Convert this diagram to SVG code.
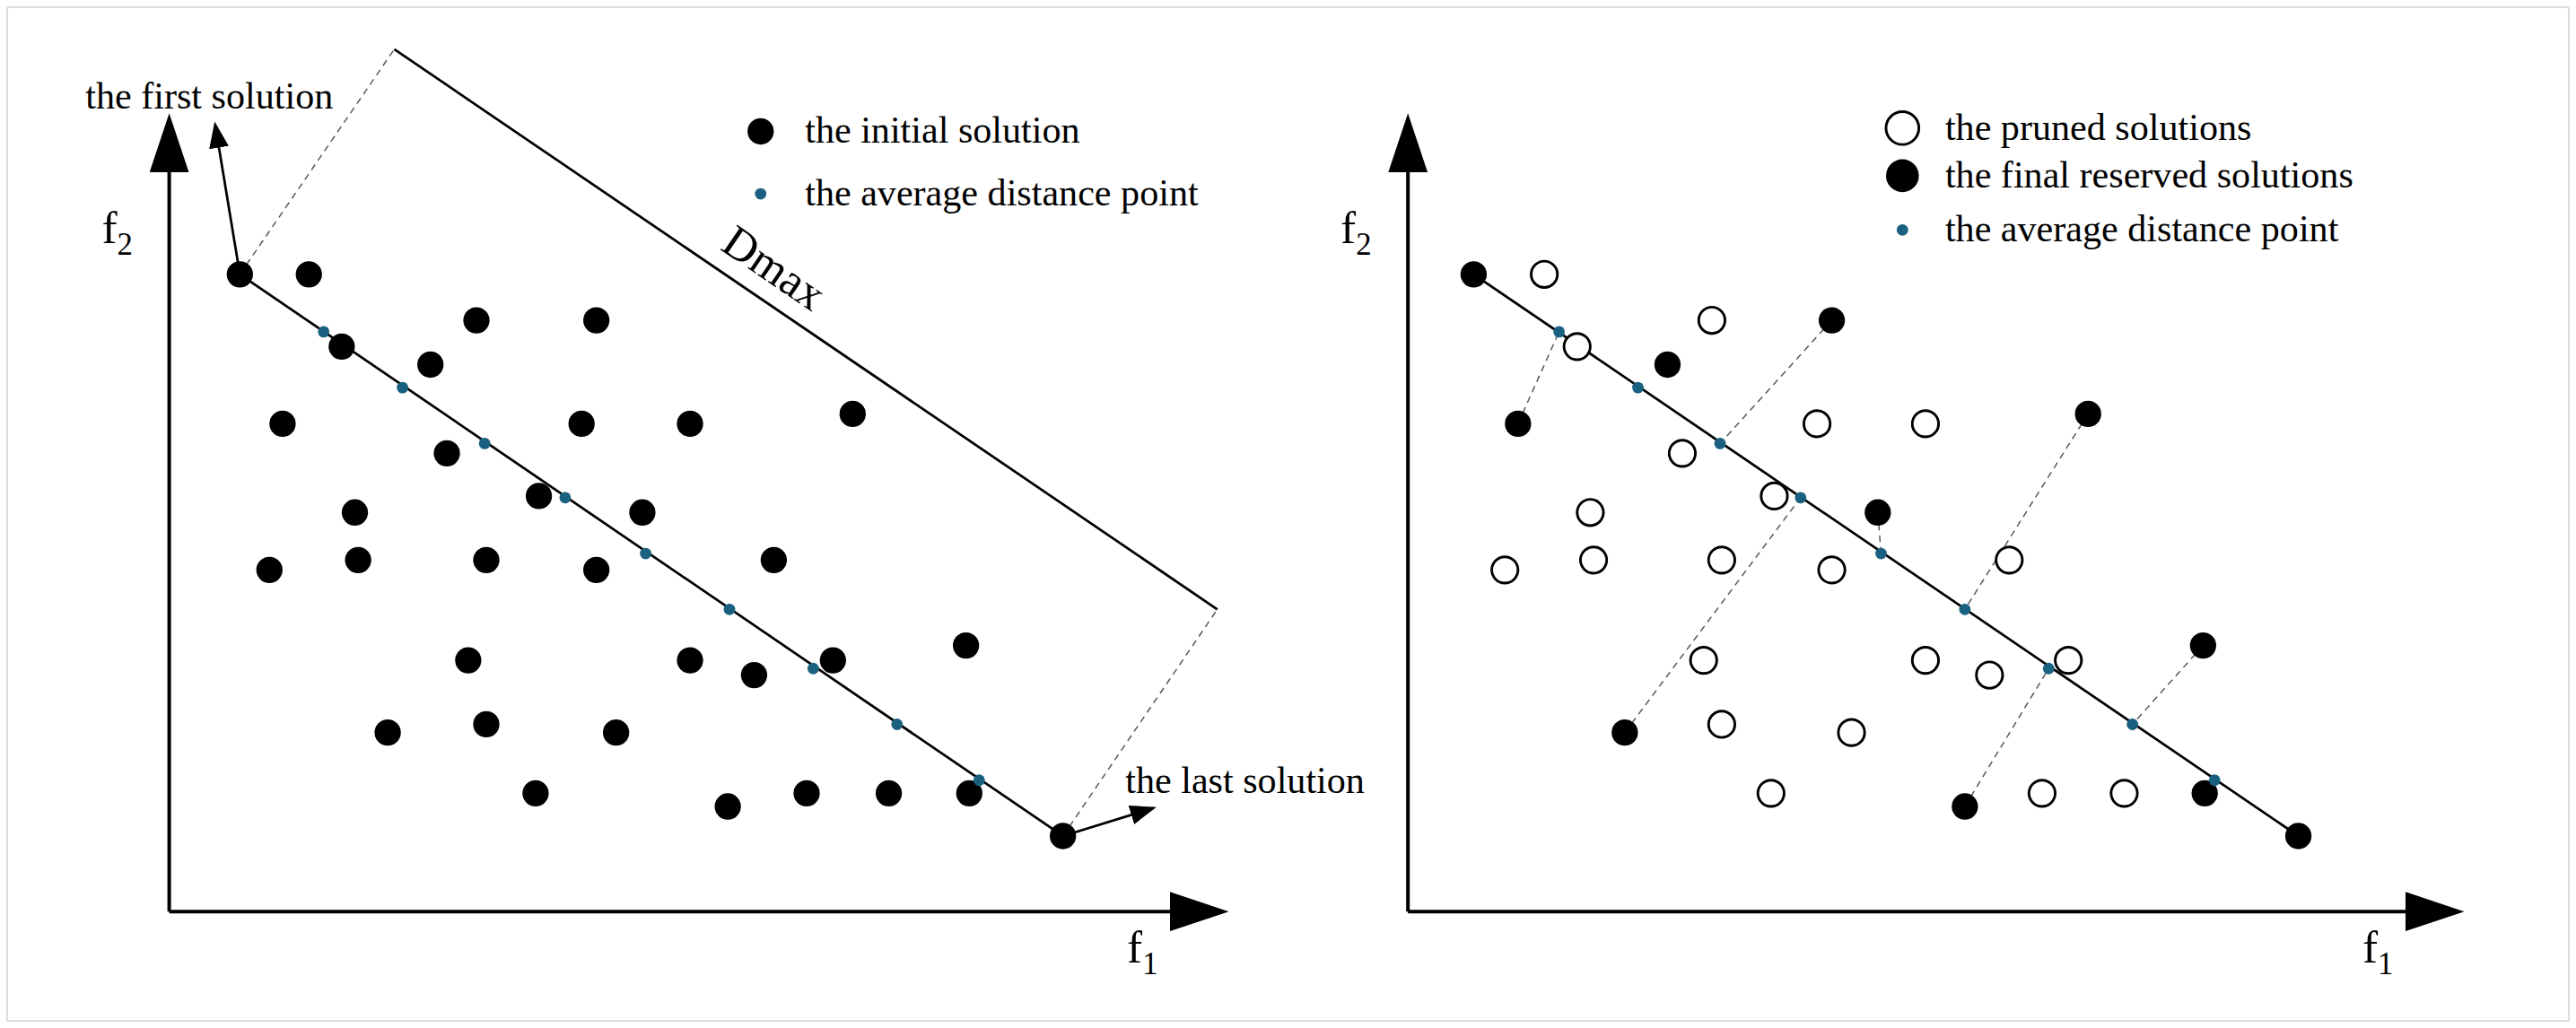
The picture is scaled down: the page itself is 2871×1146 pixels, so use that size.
<svg xmlns="http://www.w3.org/2000/svg" width="2871" height="1146" viewBox="0 0 2871 1146">
<style>
text{font-family:"Liberation Serif",serif;fill:#000}
.lbl{font-size:23px}
.ax{font-size:28px}
.f{fill:#000}
.h{fill:#fff;stroke:#000;stroke-width:1.6}
.a{fill:#1a6080}
.ln{stroke:#000;stroke-width:1.5;fill:none}
.axl{stroke:#000;stroke-width:2.2;fill:none}
.ds{stroke:#555;stroke-width:0.8;stroke-dasharray:4 3;fill:none}
</style>
<defs>
<marker id="ar" markerWidth="16" markerHeight="12" refX="14" refY="6" orient="auto" markerUnits="userSpaceOnUse"><path d="M0,0L16,6L0,12z"/></marker>
<marker id="axh" markerWidth="36" markerHeight="24" refX="2" refY="12" orient="auto" markerUnits="userSpaceOnUse"><path d="M0,0L36,12L0,24z"/></marker>
</defs>
<rect x="8" y="8" width="2855" height="1130" fill="#fff" stroke="#ddd" stroke-width="2"/>
<g transform="scale(1.831)">
<g id="connectors">
<path class="axl" d="M103,555V103" marker-end="url(#axh)"/>
<path class="axl" d="M103,555H714" marker-end="url(#axh)"/>
<path class="ln" d="M146,167L647,509"/>
<path class="ln" d="M240,30L741,371"/>
<path class="ds" d="M146,167L240,30M647,509L741,371"/>
<path class="ln" d="M146,167L131,76" marker-end="url(#ar)"/>
<path class="ln" d="M647,509L702,492" marker-end="url(#ar)"/>
<path class="axl" d="M857,555V103" marker-end="url(#axh)"/>
<path class="axl" d="M857,555H1466" marker-end="url(#axh)"/>
<path class="ln" d="M897,167L1399,509"/>
<path class="ds" d="M924,258L949,202M1115,195L1047,270M989,446L1096,303M1143,312L1145,337M1271,252L1196,371M1196,491L1247,407M1341,393L1298,441"/>
</g>
<g id="left-labels">
<text class="lbl" x="52" y="66">the first solution</text>
<text class="lbl" x="685" y="483">the last solution</text>
<text class="ax" x="470" y="172" text-anchor="middle" transform="rotate(34.2 470 165)">Dmax</text>
<text class="ax" x="62" y="148">f<tspan font-size="19" dy="7">2</tspan></text>
<text class="ax" x="686" y="586">f<tspan font-size="19" dy="7">1</tspan></text>
</g>
<g id="left-legend">
<circle class="f" cx="463" cy="80" r="8"/>
<text class="lbl" x="490" y="87">the initial solution</text>
<circle class="a" cx="463" cy="118" r="3.5"/>
<text class="lbl" x="490" y="125">the average distance point</text>
</g>
<g id="left-points">
<circle class="f" cx="146" cy="167" r="8"/><circle class="f" cx="647" cy="509" r="8"/>
<circle class="f" cx="188" cy="167" r="8"/><circle class="f" cx="208" cy="211" r="8"/><circle class="f" cx="262" cy="222" r="8"/><circle class="f" cx="290" cy="195" r="8"/><circle class="f" cx="363" cy="195" r="8"/>
<circle class="f" cx="172" cy="258" r="8"/><circle class="f" cx="272" cy="276" r="8"/><circle class="f" cx="354" cy="258" r="8"/><circle class="f" cx="420" cy="258" r="8"/><circle class="f" cx="519" cy="252" r="8"/>
<circle class="f" cx="328" cy="302" r="8"/><circle class="f" cx="391" cy="312" r="8"/><circle class="f" cx="216" cy="312" r="8"/>
<circle class="f" cx="164" cy="347" r="8"/><circle class="f" cx="218" cy="341" r="8"/><circle class="f" cx="296" cy="341" r="8"/><circle class="f" cx="363" cy="347" r="8"/><circle class="f" cx="471" cy="341" r="8"/>
<circle class="f" cx="285" cy="402" r="8"/><circle class="f" cx="420" cy="402" r="8"/><circle class="f" cx="459" cy="411" r="8"/><circle class="f" cx="507" cy="402" r="8"/><circle class="f" cx="588" cy="393" r="8"/>
<circle class="f" cx="236" cy="446" r="8"/><circle class="f" cx="296" cy="441" r="8"/><circle class="f" cx="375" cy="446" r="8"/>
<circle class="f" cx="326" cy="483" r="8"/><circle class="f" cx="443" cy="491" r="8"/><circle class="f" cx="491" cy="483" r="8"/><circle class="f" cx="541" cy="483" r="8"/><circle class="f" cx="590" cy="483" r="8"/>
<circle class="a" cx="197" cy="202" r="3.5"/><circle class="a" cx="245" cy="236" r="3.5"/><circle class="a" cx="295" cy="270" r="3.5"/><circle class="a" cx="344" cy="303" r="3.5"/><circle class="a" cx="393" cy="337" r="3.5"/><circle class="a" cx="444" cy="371" r="3.5"/><circle class="a" cx="495" cy="407" r="3.5"/><circle class="a" cx="546" cy="441" r="3.5"/><circle class="a" cx="596" cy="475" r="3.5"/>
</g>
<g id="right-labels">
<text class="ax" x="816" y="148">f<tspan font-size="19" dy="7">2</tspan></text>
<text class="ax" x="1438" y="586">f<tspan font-size="19" dy="7">1</tspan></text>
</g>
<g id="right-legend">
<circle class="h" cx="1158" cy="78" r="10"/>
<text class="lbl" x="1184" y="85">the pruned solutions</text>
<circle class="f" cx="1158" cy="107" r="10"/>
<text class="lbl" x="1184" y="114">the final reserved solutions</text>
<circle class="a" cx="1158" cy="140" r="3.5"/>
<text class="lbl" x="1184" y="147">the average distance point</text>
</g>
<g id="right-points">
<circle class="h" cx="940" cy="167" r="8"/><circle class="h" cx="960" cy="211" r="8"/><circle class="h" cx="1042" cy="195" r="8"/>
<circle class="h" cx="1024" cy="276" r="8"/><circle class="h" cx="1106" cy="258" r="8"/><circle class="h" cx="1172" cy="258" r="8"/>
<circle class="h" cx="1080" cy="302" r="8"/><circle class="h" cx="968" cy="312" r="8"/>
<circle class="h" cx="916" cy="347" r="8"/><circle class="h" cx="970" cy="341" r="8"/><circle class="h" cx="1048" cy="341" r="8"/><circle class="h" cx="1115" cy="347" r="8"/><circle class="h" cx="1223" cy="341" r="8"/>
<circle class="h" cx="1037" cy="402" r="8"/><circle class="h" cx="1172" cy="402" r="8"/><circle class="h" cx="1211" cy="411" r="8"/><circle class="h" cx="1259" cy="402" r="8"/>
<circle class="h" cx="1048" cy="441" r="8"/><circle class="h" cx="1127" cy="446" r="8"/>
<circle class="h" cx="1078" cy="483" r="8"/><circle class="h" cx="1243" cy="483" r="8"/><circle class="h" cx="1293" cy="483" r="8"/>
<circle class="f" cx="897" cy="167" r="8"/><circle class="f" cx="924" cy="258" r="8"/><circle class="f" cx="1015" cy="222" r="8"/><circle class="f" cx="1115" cy="195" r="8"/><circle class="f" cx="1143" cy="312" r="8"/><circle class="f" cx="1271" cy="252" r="8"/><circle class="f" cx="989" cy="446" r="8"/><circle class="f" cx="1196" cy="491" r="8"/><circle class="f" cx="1341" cy="393" r="8"/><circle class="f" cx="1342" cy="483" r="8"/><circle class="f" cx="1399" cy="509" r="8"/>
<circle class="a" cx="949" cy="202" r="3.5"/><circle class="a" cx="997" cy="236" r="3.5"/><circle class="a" cx="1047" cy="270" r="3.5"/><circle class="a" cx="1096" cy="303" r="3.5"/><circle class="a" cx="1145" cy="337" r="3.5"/><circle class="a" cx="1196" cy="371" r="3.5"/><circle class="a" cx="1247" cy="407" r="3.5"/><circle class="a" cx="1298" cy="441" r="3.5"/><circle class="a" cx="1348" cy="475" r="3.5"/>
</g>
</g>
</svg>
